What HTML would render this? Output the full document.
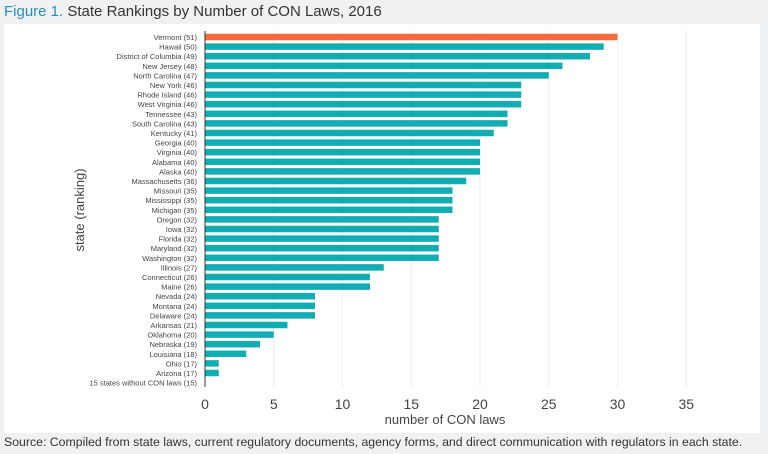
<!DOCTYPE html>
<html><head><style>
body{margin:0;width:768px;height:454px;background:#f0f1f3;font-family:"Liberation Sans",sans-serif;overflow:hidden;position:relative}
.t{position:absolute;left:4px;top:3px;font-size:15px;color:#333}
.t span{color:#2a8fb8}
.p{position:absolute;left:4px;top:24px;width:756px;height:409px;background:#fff}
.s{position:absolute;left:4px;top:435px;font-size:12.3px;color:#333}
svg{position:absolute;left:0;top:0}
.l{font-size:7.5px;fill:#444;text-anchor:end}
.b{fill:#12adb2}
</style></head><body>
<div class="t"><span>Figure 1.</span> State Rankings by Number of CON Laws, 2016</div>
<div class="p"></div>
<svg width="768" height="454" font-family="Liberation Sans, sans-serif">
<g stroke="#eceef0" stroke-width="1">
<line x1="273.75" x2="273.75" y1="31" y2="387"/><line x1="342.5" x2="342.5" y1="31" y2="387"/><line x1="411.25" x2="411.25" y1="31" y2="387"/><line x1="480" x2="480" y1="31" y2="387"/><line x1="548.75" x2="548.75" y1="31" y2="387"/><line x1="617.5" x2="617.5" y1="31" y2="387"/><line x1="686.25" x2="686.25" y1="31" y2="387"/>
</g>
<g font-size="14" fill="#444" text-anchor="middle">
<text x="205" y="409">0</text><text x="273.75" y="409">5</text><text x="342.5" y="409">10</text><text x="411.25" y="409">15</text><text x="480" y="409">20</text><text x="548.75" y="409">25</text><text x="617.5" y="409">30</text><text x="686.25" y="409">35</text>
</g>
<g transform="translate(0,37)"><text class="l" x="197" y="3">Vermont (51)</text><rect x="205" y="-3.25" width="412.5" height="6.5" fill="#f26b3a"/></g>
<g transform="translate(0,46.6)"><text class="l" x="197" y="3">Hawaii (50)</text><rect class="b" x="205" y="-3.25" width="398.75" height="6.5"/></g>
<g transform="translate(0,56.2)"><text class="l" x="197" y="3">District of Columbia (49)</text><rect class="b" x="205" y="-3.25" width="385" height="6.5"/></g>
<g transform="translate(0,65.8)"><text class="l" x="197" y="3">New Jersey (48)</text><rect class="b" x="205" y="-3.25" width="357.5" height="6.5"/></g>
<g transform="translate(0,75.4)"><text class="l" x="197" y="3">North Carolina (47)</text><rect class="b" x="205" y="-3.25" width="343.75" height="6.5"/></g>
<g transform="translate(0,85)"><text class="l" x="197" y="3">New York (46)</text><rect class="b" x="205" y="-3.25" width="316.25" height="6.5"/></g>
<g transform="translate(0,94.6)"><text class="l" x="197" y="3">Rhode Island (46)</text><rect class="b" x="205" y="-3.25" width="316.25" height="6.5"/></g>
<g transform="translate(0,104.2)"><text class="l" x="197" y="3">West Virginia (46)</text><rect class="b" x="205" y="-3.25" width="316.25" height="6.5"/></g>
<g transform="translate(0,113.8)"><text class="l" x="197" y="3">Tennessee (43)</text><rect class="b" x="205" y="-3.25" width="302.5" height="6.5"/></g>
<g transform="translate(0,123.4)"><text class="l" x="197" y="3">South Carolina (43)</text><rect class="b" x="205" y="-3.25" width="302.5" height="6.5"/></g>
<g transform="translate(0,133)"><text class="l" x="197" y="3">Kentucky (41)</text><rect class="b" x="205" y="-3.25" width="288.75" height="6.5"/></g>
<g transform="translate(0,142.6)"><text class="l" x="197" y="3">Georgia (40)</text><rect class="b" x="205" y="-3.25" width="275" height="6.5"/></g>
<g transform="translate(0,152.2)"><text class="l" x="197" y="3">Virginia (40)</text><rect class="b" x="205" y="-3.25" width="275" height="6.5"/></g>
<g transform="translate(0,161.8)"><text class="l" x="197" y="3">Alabama (40)</text><rect class="b" x="205" y="-3.25" width="275" height="6.5"/></g>
<g transform="translate(0,171.4)"><text class="l" x="197" y="3">Alaska (40)</text><rect class="b" x="205" y="-3.25" width="275" height="6.5"/></g>
<g transform="translate(0,181)"><text class="l" x="197" y="3">Massachusetts (36)</text><rect class="b" x="205" y="-3.25" width="261.25" height="6.5"/></g>
<g transform="translate(0,190.6)"><text class="l" x="197" y="3">Missouri (35)</text><rect class="b" x="205" y="-3.25" width="247.5" height="6.5"/></g>
<g transform="translate(0,200.2)"><text class="l" x="197" y="3">Mississippi (35)</text><rect class="b" x="205" y="-3.25" width="247.5" height="6.5"/></g>
<g transform="translate(0,209.8)"><text class="l" x="197" y="3">Michigan (35)</text><rect class="b" x="205" y="-3.25" width="247.5" height="6.5"/></g>
<g transform="translate(0,219.4)"><text class="l" x="197" y="3">Oregon (32)</text><rect class="b" x="205" y="-3.25" width="233.75" height="6.5"/></g>
<g transform="translate(0,229)"><text class="l" x="197" y="3">Iowa (32)</text><rect class="b" x="205" y="-3.25" width="233.75" height="6.5"/></g>
<g transform="translate(0,238.6)"><text class="l" x="197" y="3">Florida (32)</text><rect class="b" x="205" y="-3.25" width="233.75" height="6.5"/></g>
<g transform="translate(0,248.2)"><text class="l" x="197" y="3">Maryland (32)</text><rect class="b" x="205" y="-3.25" width="233.75" height="6.5"/></g>
<g transform="translate(0,257.8)"><text class="l" x="197" y="3">Washington (32)</text><rect class="b" x="205" y="-3.25" width="233.75" height="6.5"/></g>
<g transform="translate(0,267.4)"><text class="l" x="197" y="3">Illinois (27)</text><rect class="b" x="205" y="-3.25" width="178.75" height="6.5"/></g>
<g transform="translate(0,277)"><text class="l" x="197" y="3">Connecticut (26)</text><rect class="b" x="205" y="-3.25" width="165" height="6.5"/></g>
<g transform="translate(0,286.6)"><text class="l" x="197" y="3">Maine (26)</text><rect class="b" x="205" y="-3.25" width="165" height="6.5"/></g>
<g transform="translate(0,296.2)"><text class="l" x="197" y="3">Nevada (24)</text><rect class="b" x="205" y="-3.25" width="110" height="6.5"/></g>
<g transform="translate(0,305.8)"><text class="l" x="197" y="3">Montana (24)</text><rect class="b" x="205" y="-3.25" width="110" height="6.5"/></g>
<g transform="translate(0,315.4)"><text class="l" x="197" y="3">Delaware (24)</text><rect class="b" x="205" y="-3.25" width="110" height="6.5"/></g>
<g transform="translate(0,325)"><text class="l" x="197" y="3">Arkansas (21)</text><rect class="b" x="205" y="-3.25" width="82.5" height="6.5"/></g>
<g transform="translate(0,334.6)"><text class="l" x="197" y="3">Oklahoma (20)</text><rect class="b" x="205" y="-3.25" width="68.75" height="6.5"/></g>
<g transform="translate(0,344.2)"><text class="l" x="197" y="3">Nebraska (19)</text><rect class="b" x="205" y="-3.25" width="55" height="6.5"/></g>
<g transform="translate(0,353.8)"><text class="l" x="197" y="3">Louisiana (18)</text><rect class="b" x="205" y="-3.25" width="41.25" height="6.5"/></g>
<g transform="translate(0,363.4)"><text class="l" x="197" y="3">Ohio (17)</text><rect class="b" x="205" y="-3.25" width="13.75" height="6.5"/></g>
<g transform="translate(0,373)"><text class="l" x="197" y="3">Arizona (17)</text><rect class="b" x="205" y="-3.25" width="13.75" height="6.5"/></g>
<g transform="translate(0,382.6)"><text class="l" x="197" y="3">15 states without CON laws (15)</text></g>
<line x1="205" x2="205" y1="31" y2="387" stroke="#333" stroke-width="1"/>
<text x="445" y="424" font-size="13" fill="#444" text-anchor="middle">number of CON laws</text>
<text transform="translate(84,210) rotate(-90)" font-size="13" fill="#444" text-anchor="middle">state (ranking)</text>
</svg>
<div class="s">Source: Compiled from state laws, current regulatory documents, agency forms, and direct communication with regulators in each state.</div>
</body></html>
